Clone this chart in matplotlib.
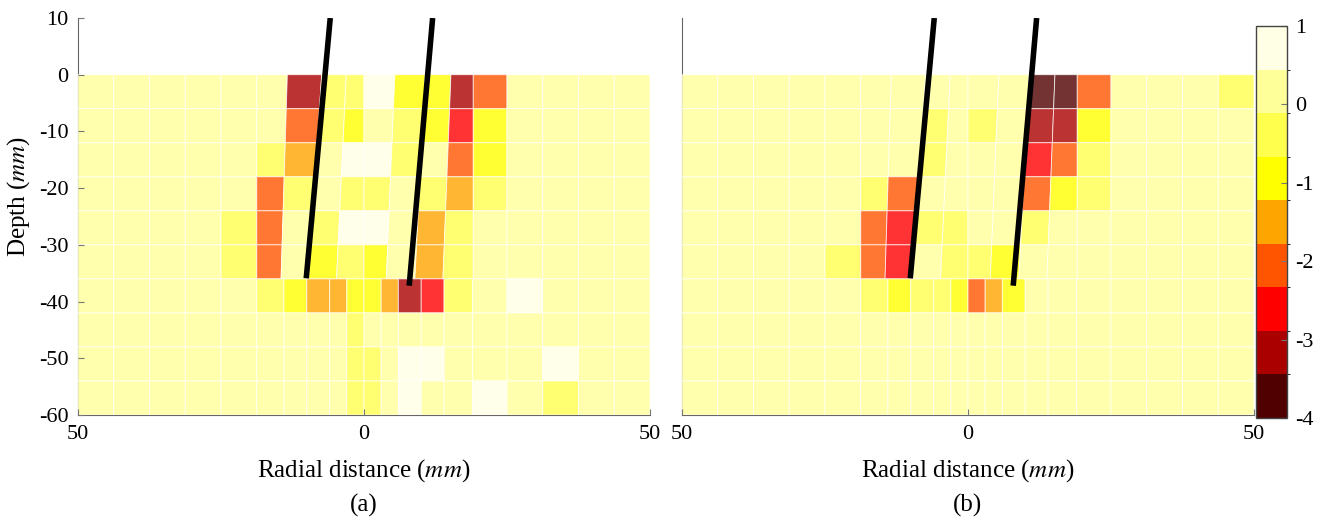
import numpy as np
import matplotlib
matplotlib.use('Agg')
import matplotlib.pyplot as plt
from matplotlib.colors import ListedColormap, BoundaryNorm
from matplotlib.cm import ScalarMappable

plt.rcParams['font.family'] = ['Liberation Serif', 'DejaVu Serif']
plt.rcParams['mathtext.fontset'] = 'stix'
plt.rcParams['axes.unicode_minus'] = False

# ==========================================
# 1. Data
# ==========================================
depth_edges_upper = [0, -6, -12, -18, -24, -30, -36]
depth_edges_lower = [-36, -42, -48, -54, -60]

# column edges (mm) of the upper block at depth 0 and at depth -36 (cells lean with the needles)
col_edges_top = [-50, -43.75, -37.5, -31.25, -25, -18.75, -13.4, -7.4, -3.1, 0, 5.4, 10.7, 15.2, 19.1, 25, 31.25, 37.5, 43.75, 50]
col_edges_mid = [-50, -43.75, -37.5, -31.25, -25, -18.75, -14.5, -9.7, -4.8, 0, 3.9, 8.9, 13.8, 19.1, 25, 31.25, 37.5, 43.75, 50]
# column edges of the lower block (finer in the middle)
col_edges_low = [-50, -43.75, -37.5, -31.25, -25, -18.75, -14, -10, -6, -3, 0, 3, 6, 10, 14, 19, 25, 31.25, 37.5, 43.75, 50]

# panel (a)
vals_a_upper = [
    [0.2, 0.2, 0.2, 0.2, 0.2, 0.2, -3.2, -0.4, -0.4, 0.7, -0.9, -0.9, -3.2, -2.1, 0.2, 0.2, 0.2, 0.2],
    [0.2, 0.2, 0.2, 0.2, 0.2, 0.2, -2.1, -0.4, -0.9, 0.2, -0.4, -0.9, -2.6, -0.9, 0.2, 0.2, 0.2, 0.2],
    [0.2, 0.2, 0.2, 0.2, 0.2, -0.4, -1.5, 0.2, 0.7, 0.7, -0.4, 0.2, -2.1, -0.9, 0.2, 0.2, 0.2, 0.2],
    [0.2, 0.2, 0.2, 0.2, 0.2, -2.1, -0.4, 0.2, -0.4, -0.4, 0.2, -0.4, -1.5, -0.4, 0.2, 0.2, 0.2, 0.2],
    [0.2, 0.2, 0.2, 0.2, -0.4, -2.1, 0.2, -0.4, 0.7, 0.7, 0.2, -1.5, -0.4, 0.2, 0.2, 0.2, 0.2, 0.2],
    [0.2, 0.2, 0.2, 0.2, -0.4, -2.1, 0.2, -0.9, -0.4, -0.9, 0.2, -1.5, -0.4, 0.2, 0.2, 0.2, 0.2, 0.2],
]
vals_a_lower = [
    [0.2, 0.2, 0.2, 0.2, 0.2, -0.4, -0.9, -1.5, -1.5, -0.9, -0.9, -1.5, -3.2, -2.6, -0.4, 0.2, 0.7, 0.2, 0.2, 0.2],
    [0.2, 0.2, 0.2, 0.2, 0.2, 0.2, 0.2, 0.2, 0.2, -0.4, 0.2, 0.2, 0.2, 0.2, 0.2, 0.2, 0.2, 0.2, 0.2, 0.2],
    [0.2, 0.2, 0.2, 0.2, 0.2, 0.2, 0.2, 0.2, 0.2, -0.4, -0.4, 0.2, 0.7, 0.7, 0.2, 0.2, 0.2, 0.7, 0.2, 0.2],
    [0.2, 0.2, 0.2, 0.2, 0.2, 0.2, 0.2, 0.2, 0.2, -0.4, -0.4, 0.2, 0.7, 0.2, 0.2, 0.7, 0.2, -0.4, 0.2, 0.2],
]

# panel (b)
vals_b_upper = [
    [0.2, 0.2, 0.2, 0.2, 0.2, 0.2, 0.2, 0.2, 0.2, 0.2, 0.2, -3.7, -3.7, -2.1, 0.2, 0.2, 0.2, -0.4],
    [0.2, 0.2, 0.2, 0.2, 0.2, 0.2, 0.2, -0.4, 0.2, -0.4, 0.2, -3.2, -3.2, -0.9, 0.2, 0.2, 0.2, 0.2],
    [0.2, 0.2, 0.2, 0.2, 0.2, 0.2, 0.2, -0.4, 0.2, 0.2, 0.2, -2.6, -2.1, -0.4, 0.2, 0.2, 0.2, 0.2],
    [0.2, 0.2, 0.2, 0.2, 0.2, -0.4, -2.1, 0.2, 0.2, 0.2, 0.2, -2.1, -0.9, -0.4, 0.2, 0.2, 0.2, 0.2],
    [0.2, 0.2, 0.2, 0.2, 0.2, -2.1, -2.6, -0.4, -0.4, 0.2, 0.2, -0.4, 0.2, 0.2, 0.2, 0.2, 0.2, 0.2],
    [0.2, 0.2, 0.2, 0.2, -0.4, -2.1, -2.6, 0.2, -0.4, -0.4, -0.9, 0.2, 0.2, 0.2, 0.2, 0.2, 0.2, 0.2],
]
vals_b_lower = [
    [0.2, 0.2, 0.2, 0.2, 0.2, -0.4, -0.9, -0.4, -0.4, -0.9, -2.1, -1.5, -0.9, 0.2, 0.2, 0.2, 0.2, 0.2, 0.2, 0.2],
    [0.2] * 20,
    [0.2] * 20,
    [0.2] * 20,
]

# needles (x, depth) in mm
needle1_x = [-5.9, -10.1]
needle1_y = [10, -35.9]
needle2_x = [12.0, 7.9]
needle2_y = [10, -37.2]

x_ticks = [-50, 0, 50]
x_tick_labels = ['50', '0', '50']
y_ticks = [10, 0, -10, -20, -30, -40, -50, -60]
cbar_ticks = [1, 0, -1, -2, -3, -4]

level_colors = ['#500000', '#aa0000', '#ff0000', '#ff5500', '#ffa500',
                '#ffff00', '#ffff4d', '#ffff99', '#ffffe5']
cmap = ListedColormap(level_colors)
norm = BoundaryNorm(np.linspace(-4, 1, len(level_colors) + 1), cmap.N)

# ==========================================
# 2. Plotting
# ==========================================
W, H = 1327, 528


def draw_panel(ax, upper, lower, label, show_y):
    top = np.array(col_edges_top)
    mid = np.array(col_edges_mid)
    yu = np.array(depth_edges_upper, dtype=float)
    frac = yu / yu[-1]
    X = top[None, :] + (mid - top)[None, :] * frac[:, None]
    Y = np.repeat(yu[:, None], len(top), axis=1)
    mesh_kw = dict(cmap=cmap, norm=norm, alpha=0.8, edgecolors='#ffffff', linewidth=0.6, zorder=1)
    ax.pcolor(X, Y, np.array(upper), **mesh_kw)
    ax.pcolor(np.array(col_edges_low), np.array(depth_edges_lower), np.array(lower), **mesh_kw)

    for nx, ny in [(needle1_x, needle1_y), (needle2_x, needle2_y)]:
        ax.plot(nx, ny, color='black', lw=4, solid_capstyle='butt', zorder=3)

    ax.set_xlim(-50, 50)
    ax.set_ylim(-60, 10)
    ax.set_xticks(x_ticks)
    ax.set_xticklabels(x_tick_labels)
    ax.set_yticks(y_ticks)
    if not show_y:
        ax.tick_params(axis='y', left=False, labelleft=False)
    ax.tick_params(direction='in', length=4, color='#777777', labelsize=16, pad=7)
    for side in ['top', 'right']:
        ax.spines[side].set_visible(False)
    for side in ['left', 'bottom']:
        ax.spines[side].set_color('#666666')
        ax.spines[side].set_zorder(0.5)

    ax.set_xlabel('Radial distance ($\\it{mm}$)', fontsize=18)
    ax.xaxis.set_label_coords(0.5, -0.105)
    ax.text(0.5, -0.227, label, transform=ax.transAxes, ha='center', va='center', fontsize=18)
    if show_y:
        ax.set_ylabel('Depth ($\\it{mm}$)', fontsize=18)
        ax.yaxis.set_label_coords(-0.08, 0.55)


fig = plt.figure(figsize=(W / 100, H / 100), dpi=100)
ax_a = fig.add_axes([78 / W, (H - 415) / H, 572 / W, 397 / H])
ax_b = fig.add_axes([682 / W, (H - 415) / H, 572 / W, 397 / H])
cax = fig.add_axes([1256 / W, (H - 418) / H, 31 / W, 392 / H])

draw_panel(ax_a, vals_a_upper, vals_a_lower, '(a)', True)
draw_panel(ax_b, vals_b_upper, vals_b_lower, '(b)', False)

cb = fig.colorbar(ScalarMappable(norm=norm, cmap=cmap), cax=cax, ticks=cbar_ticks)
cb.ax.tick_params(direction='in', length=4, color='#777777', labelsize=16, pad=6)
cb.outline.set_edgecolor('#444444')
cb.outline.set_linewidth(1)

plt.savefig('out.png', dpi=100)
